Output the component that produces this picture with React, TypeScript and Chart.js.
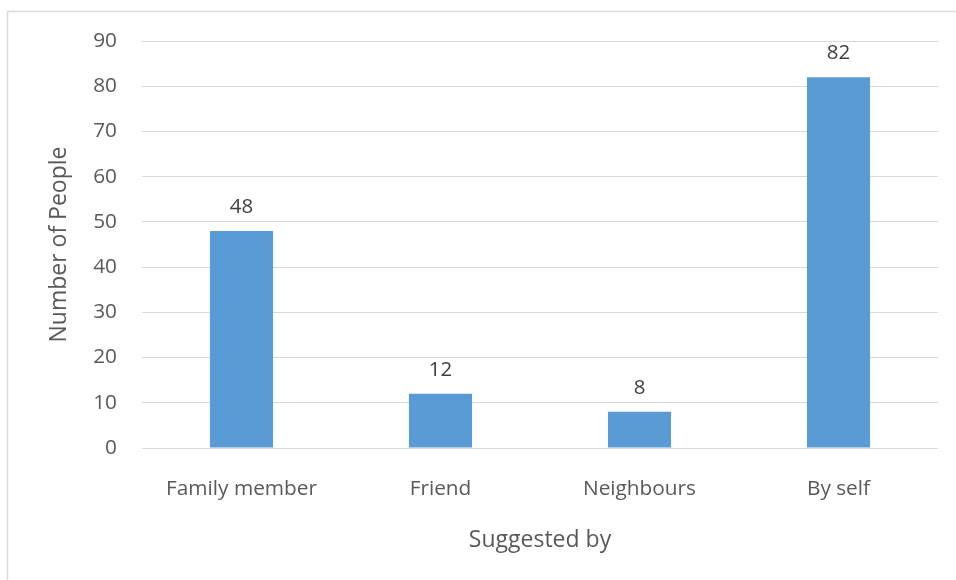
import React, { useEffect, useRef } from "react";
import { Chart, registerables } from "chart.js";

Chart.register(...registerables);

const categories = ["Family member", "Friend", "Neighbours", "By self"];
const peopleCounts = [48, 12, 8, 82];
const yAxisTitle = "Number of People";
const xAxisTitle = "Suggested by";
const yMin = 0;
const yMax = 90;
const yStep = 10;

const FONT = "'Open Sans', Lato, sans-serif";

const framePlugin = {
  id: "frame",
  beforeDraw(chart: any) {
    const { ctx, width, height } = chart;
    ctx.save();
    ctx.fillStyle = "#ffffff";
    ctx.fillRect(0, 0, width, height);
    ctx.strokeStyle = "#d9d9d9";
    ctx.lineWidth = 1.5;
    ctx.beginPath();
    ctx.moveTo(7.5, height);
    ctx.lineTo(7.5, 11.5);
    ctx.lineTo(width, 11.5);
    ctx.stroke();
    ctx.restore();
  },
};

const dataLabelPlugin = {
  id: "dataLabels",
  afterDatasetsDraw(chart: any) {
    const { ctx } = chart;
    const meta = chart.getDatasetMeta(0);
    const data = chart.data.datasets[0].data;
    ctx.save();
    ctx.fillStyle = "#404040";
    ctx.font = `20.5px ${FONT}`;
    ctx.textAlign = "center";
    ctx.textBaseline = "middle";
    meta.data.forEach((bar: any, i: number) => {
      ctx.fillText(String(data[i]), bar.x, bar.y - 24);
    });
    ctx.restore();
  },
};

export default function App() {
  const ref = useRef<HTMLCanvasElement | null>(null);
  useEffect(() => {
    if (!ref.current) return;
    const chart = new Chart(ref.current, {
      type: "bar",
      data: {
        labels: categories,
        datasets: [
          {
            data: peopleCounts,
            backgroundColor: "#5b9bd5",
            borderWidth: 0,
            categoryPercentage: 1,
            barPercentage: 0.317,
          },
        ],
      },
      options: {
        responsive: false,
        animation: false,
        devicePixelRatio: 1,
        layout: { padding: { left: 0, right: 18, top: 41, bottom: 0 } },
        plugins: {
          legend: { display: false },
          tooltip: { enabled: false },
        },
        scales: {
          x: {
            grid: { display: false, drawTicks: false },
            border: { display: false },
            ticks: {
              color: "#595959",
              font: { family: FONT, size: 20.8 },
              padding: 29,
              maxRotation: 0,
            },
            title: {
              display: true,
              text: xAxisTitle,
              color: "#595959",
              font: { family: FONT, size: 23 },
              padding: { top: 0, bottom: 26 },
            },
            afterFit: (scale: any) => {
              scale.height = 132;
            },
          },
          y: {
            min: yMin,
            max: yMax,
            grid: { color: "#d9d9d9", lineWidth: 1, drawTicks: false },
            border: { display: false },
            ticks: {
              stepSize: yStep,
              color: "#595959",
              font: { family: FONT, size: 20.8 },
              padding: 25,
            },
            title: {
              display: true,
              text: yAxisTitle,
              color: "#595959",
              font: { family: FONT, size: 23 },
              padding: { top: 46, bottom: 0 },
            },
            afterFit: (scale: any) => {
              scale.width = 142;
            },
          },
        },
      },
      plugins: [framePlugin, dataLabelPlugin],
    });
    return () => chart.destroy();
  }, []);
  return (
    <div style={{ position: "absolute", left: 0, top: 0, width: 956, height: 580 }}>
      <canvas ref={ref} width={956} height={580} style={{ display: "block" }} />
    </div>
  );
}
